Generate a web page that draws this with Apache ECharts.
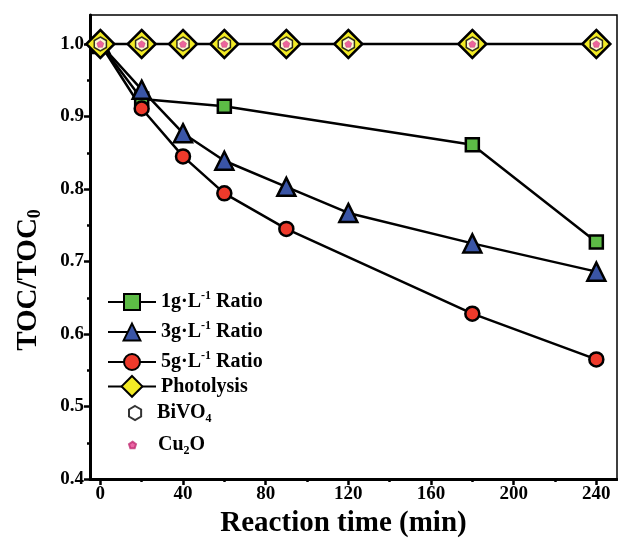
<!DOCTYPE html>
<html>
<head>
<meta charset="utf-8">
<script src="https://cdn.jsdelivr.net/npm/echarts@6/dist/echarts.min.js"></script>
<style>html,body{margin:0;padding:0;background:#fff}#c{width:618px;height:544px}</style>
</head>
<body>
<div id="c"></div>
<script>
// ---- data ----
const xTickLabels = [0, 40, 80, 120, 160, 200, 240];
const xMinorTicks = [20, 60, 100, 140, 180, 220];
const yTickLabels = [0.4, 0.5, 0.6, 0.7, 0.8, 0.9, 1.0];
const yMinorTicks = [0.45, 0.55, 0.65, 0.75, 0.85, 0.95];

const t1g = [0, 20, 60, 180, 240];
const v1g = [1.0, 0.924, 0.914, 0.861, 0.727];
const t3g = [0, 20, 40, 60, 90, 120, 180, 240];
const v3g = [1.0, 0.937, 0.877, 0.839, 0.803, 0.767, 0.725, 0.686];
const t5g = [0, 20, 40, 60, 90, 180, 240];
const v5g = [1.0, 0.911, 0.845, 0.794, 0.745, 0.628, 0.565];
const tPhoto = [0, 20, 40, 60, 90, 120, 180, 240];
const vPhoto = [1.0, 1.0, 1.0, 1.0, 1.0, 1.0, 1.0, 1.0];
const tBiVO4 = [0, 20, 40, 60, 90, 120, 180, 240];
const vBiVO4 = [1.0, 1.0, 1.0, 1.0, 1.0, 1.0, 1.0, 1.0];
const tCu2O = [0, 20, 40, 60, 90, 120, 180, 240];
const vCu2O = [1.0, 1.0, 1.0, 1.0, 1.0, 1.0, 1.0, 1.0];

const names = ['1g', '3g', '5g', 'Photolysis', 'BiVO4', 'Cu2O'];

// ---- chart ----
const FF = '"Liberation Serif", "Times New Roman", serif';
const pair = (t, v) => t.map((x, i) => [x, v[i]]);
const HEX = 'path://M0,-10 L8.66,-5 L8.66,5 L0,10 L-8.66,5 L-8.66,-5 Z';
const PENT = 'path://M0,-10 L9.51,-3.09 L5.88,8.09 L-5.88,8.09 L-9.51,-3.09 Z';

const rich = {
  n: {fontFamily: FF, fontWeight: 'bold', fontSize: 20, color: '#000', lineHeight: 24, verticalAlign: 'middle'},
  sup: {fontFamily: FF, fontWeight: 'bold', fontSize: 12, color: '#000', lineHeight: 12, verticalAlign: 'top'},
  sub: {fontFamily: FF, fontWeight: 'bold', fontSize: 12, color: '#000', lineHeight: 12, verticalAlign: 'bottom'}
};
const labelRich = {
  '1g': '{n|1g·L}{sup|-1}{n| Ratio}',
  '3g': '{n|3g·L}{sup|-1}{n| Ratio}',
  '5g': '{n|5g·L}{sup|-1}{n| Ratio}',
  'Photolysis': '{n|Photolysis}',
  'BiVO4': '{n|BiVO}{sub|4}',
  'Cu2O': '{n|Cu}{sub|2}{n|O}'
};
const legendRows = [
  {name: '1g', left: 107, top: 290, h: 20, w: 48, pad: 0},
  {name: '3g', left: 107, top: 320, h: 21, w: 48, pad: 0},
  {name: '5g', left: 107, top: 350, h: 20, w: 48, pad: 0},
  {name: 'Photolysis', left: 107, top: 375, h: 26, w: 48, pad: 0},
  {name: 'BiVO4', left: 128, top: 403, h: 14, w: 14, pad: 10},
  {name: 'Cu2O', left: 128, top: 435, h: 7, w: 7, pad: 17}
];

const lineSeries = (name, t, v, sym, size, fill) => ({
  name, type: 'line', data: pair(t, v), symbol: sym, symbolSize: size,
  lineStyle: {color: '#000', width: 2.5},
  itemStyle: {color: fill, borderColor: '#000', borderWidth: 2.5},
  clip: false, animation: false, z: 2
});

const option = {
  animation: false,
  grid: {left: 90, right: 1, top: 15, bottom: 65, show: true, borderColor: '#000', borderWidth: 1.5},
  legend: legendRows.map(r => ({
    data: [r.name], left: r.left, top: r.top, orient: 'vertical', padding: 0,
    itemWidth: r.w, itemHeight: r.h, itemGap: 0, selectedMode: false,
    formatter: n => labelRich[n],
    textStyle: {rich: rich, fontFamily: FF, fontWeight: 'bold', fontSize: 20, color: '#000', padding: [0, 0, 0, r.pad]}
  })),
  xAxis: [{
    type: 'value', min: -5, max: 250,
    name: 'Reaction time (min)', nameLocation: 'middle', nameGap: 27,
    nameTextStyle: {fontFamily: FF, fontWeight: 'bold', fontSize: 29, color: '#000', padding: [0, 20, 0, 0]},
    axisLine: {onZero: false, lineStyle: {color: '#000', width: 3}},
    axisTick: {customValues: xTickLabels, length: 6, lineStyle: {color: '#000', width: 2.5}},
    axisLabel: {customValues: xTickLabels, fontFamily: FF, fontWeight: 'bold', fontSize: 19, color: '#000', margin: 6},
    splitLine: {show: false}
  }, {
    type: 'value', min: -5, max: 250, position: 'bottom',
    axisLine: {show: false, onZero: false},
    axisTick: {customValues: xMinorTicks, length: 3, lineStyle: {color: '#000', width: 2.5}},
    axisLabel: {show: false}, splitLine: {show: false}
  }],
  yAxis: [{
    type: 'value', min: 0.4, max: 1.04,
    name: '{n|TOC/TOC}{sub|0}', nameLocation: 'middle', nameGap: 46,
    nameTextStyle: {padding: [0, 66, 0, 0], rich: {
      n: {fontFamily: FF, fontWeight: 'bold', fontSize: 29, color: '#000', lineHeight: 30, verticalAlign: 'middle'},
      sub: {fontFamily: FF, fontWeight: 'bold', fontSize: 18, color: '#000', lineHeight: 14, verticalAlign: 'bottom'}
    }},
    axisLine: {onZero: false, lineStyle: {color: '#000', width: 3}},
    axisTick: {customValues: yTickLabels, length: 6, lineStyle: {color: '#000', width: 2.5}},
    axisLabel: {customValues: yTickLabels, formatter: v => v.toFixed(1), fontFamily: FF, fontWeight: 'bold', fontSize: 19, color: '#000', margin: 6},
    splitLine: {show: false}
  }, {
    type: 'value', min: 0.4, max: 1.04, position: 'left',
    axisLine: {show: false, onZero: false},
    axisTick: {customValues: yMinorTicks, length: 3, lineStyle: {color: '#000', width: 2.5}},
    axisLabel: {show: false}, splitLine: {show: false}
  }],
  series: [
    lineSeries('1g', t1g, v1g, 'rect', 13, '#5dbb46'),
    lineSeries('3g', t3g, v3g, 'triangle', 18, '#3a55a6'),
    lineSeries('5g', t5g, v5g, 'circle', 14, '#ee3a2b'),
    lineSeries('Photolysis', tPhoto, vPhoto, 'diamond', 28, '#f2ea25'),
    {name: 'BiVO4', type: 'scatter', data: pair(tBiVO4, vBiVO4), symbol: HEX, symbolSize: 14, symbolKeepAspect: true,
     itemStyle: {color: '#fff', borderColor: '#000', borderWidth: 1.5}, clip: false, z: 3},
    {name: 'Cu2O', type: 'scatter', data: pair(tCu2O, vCu2O), symbol: PENT, symbolSize: 7, symbolKeepAspect: true,
     itemStyle: {color: '#e6408f', borderColor: '#c02c72', borderWidth: 0.5}, clip: false, z: 4}
  ]
};
const chart = echarts.init(document.getElementById('c'), null, {renderer: 'canvas'});
chart.setOption(option);
</script>
</body>
</html>
